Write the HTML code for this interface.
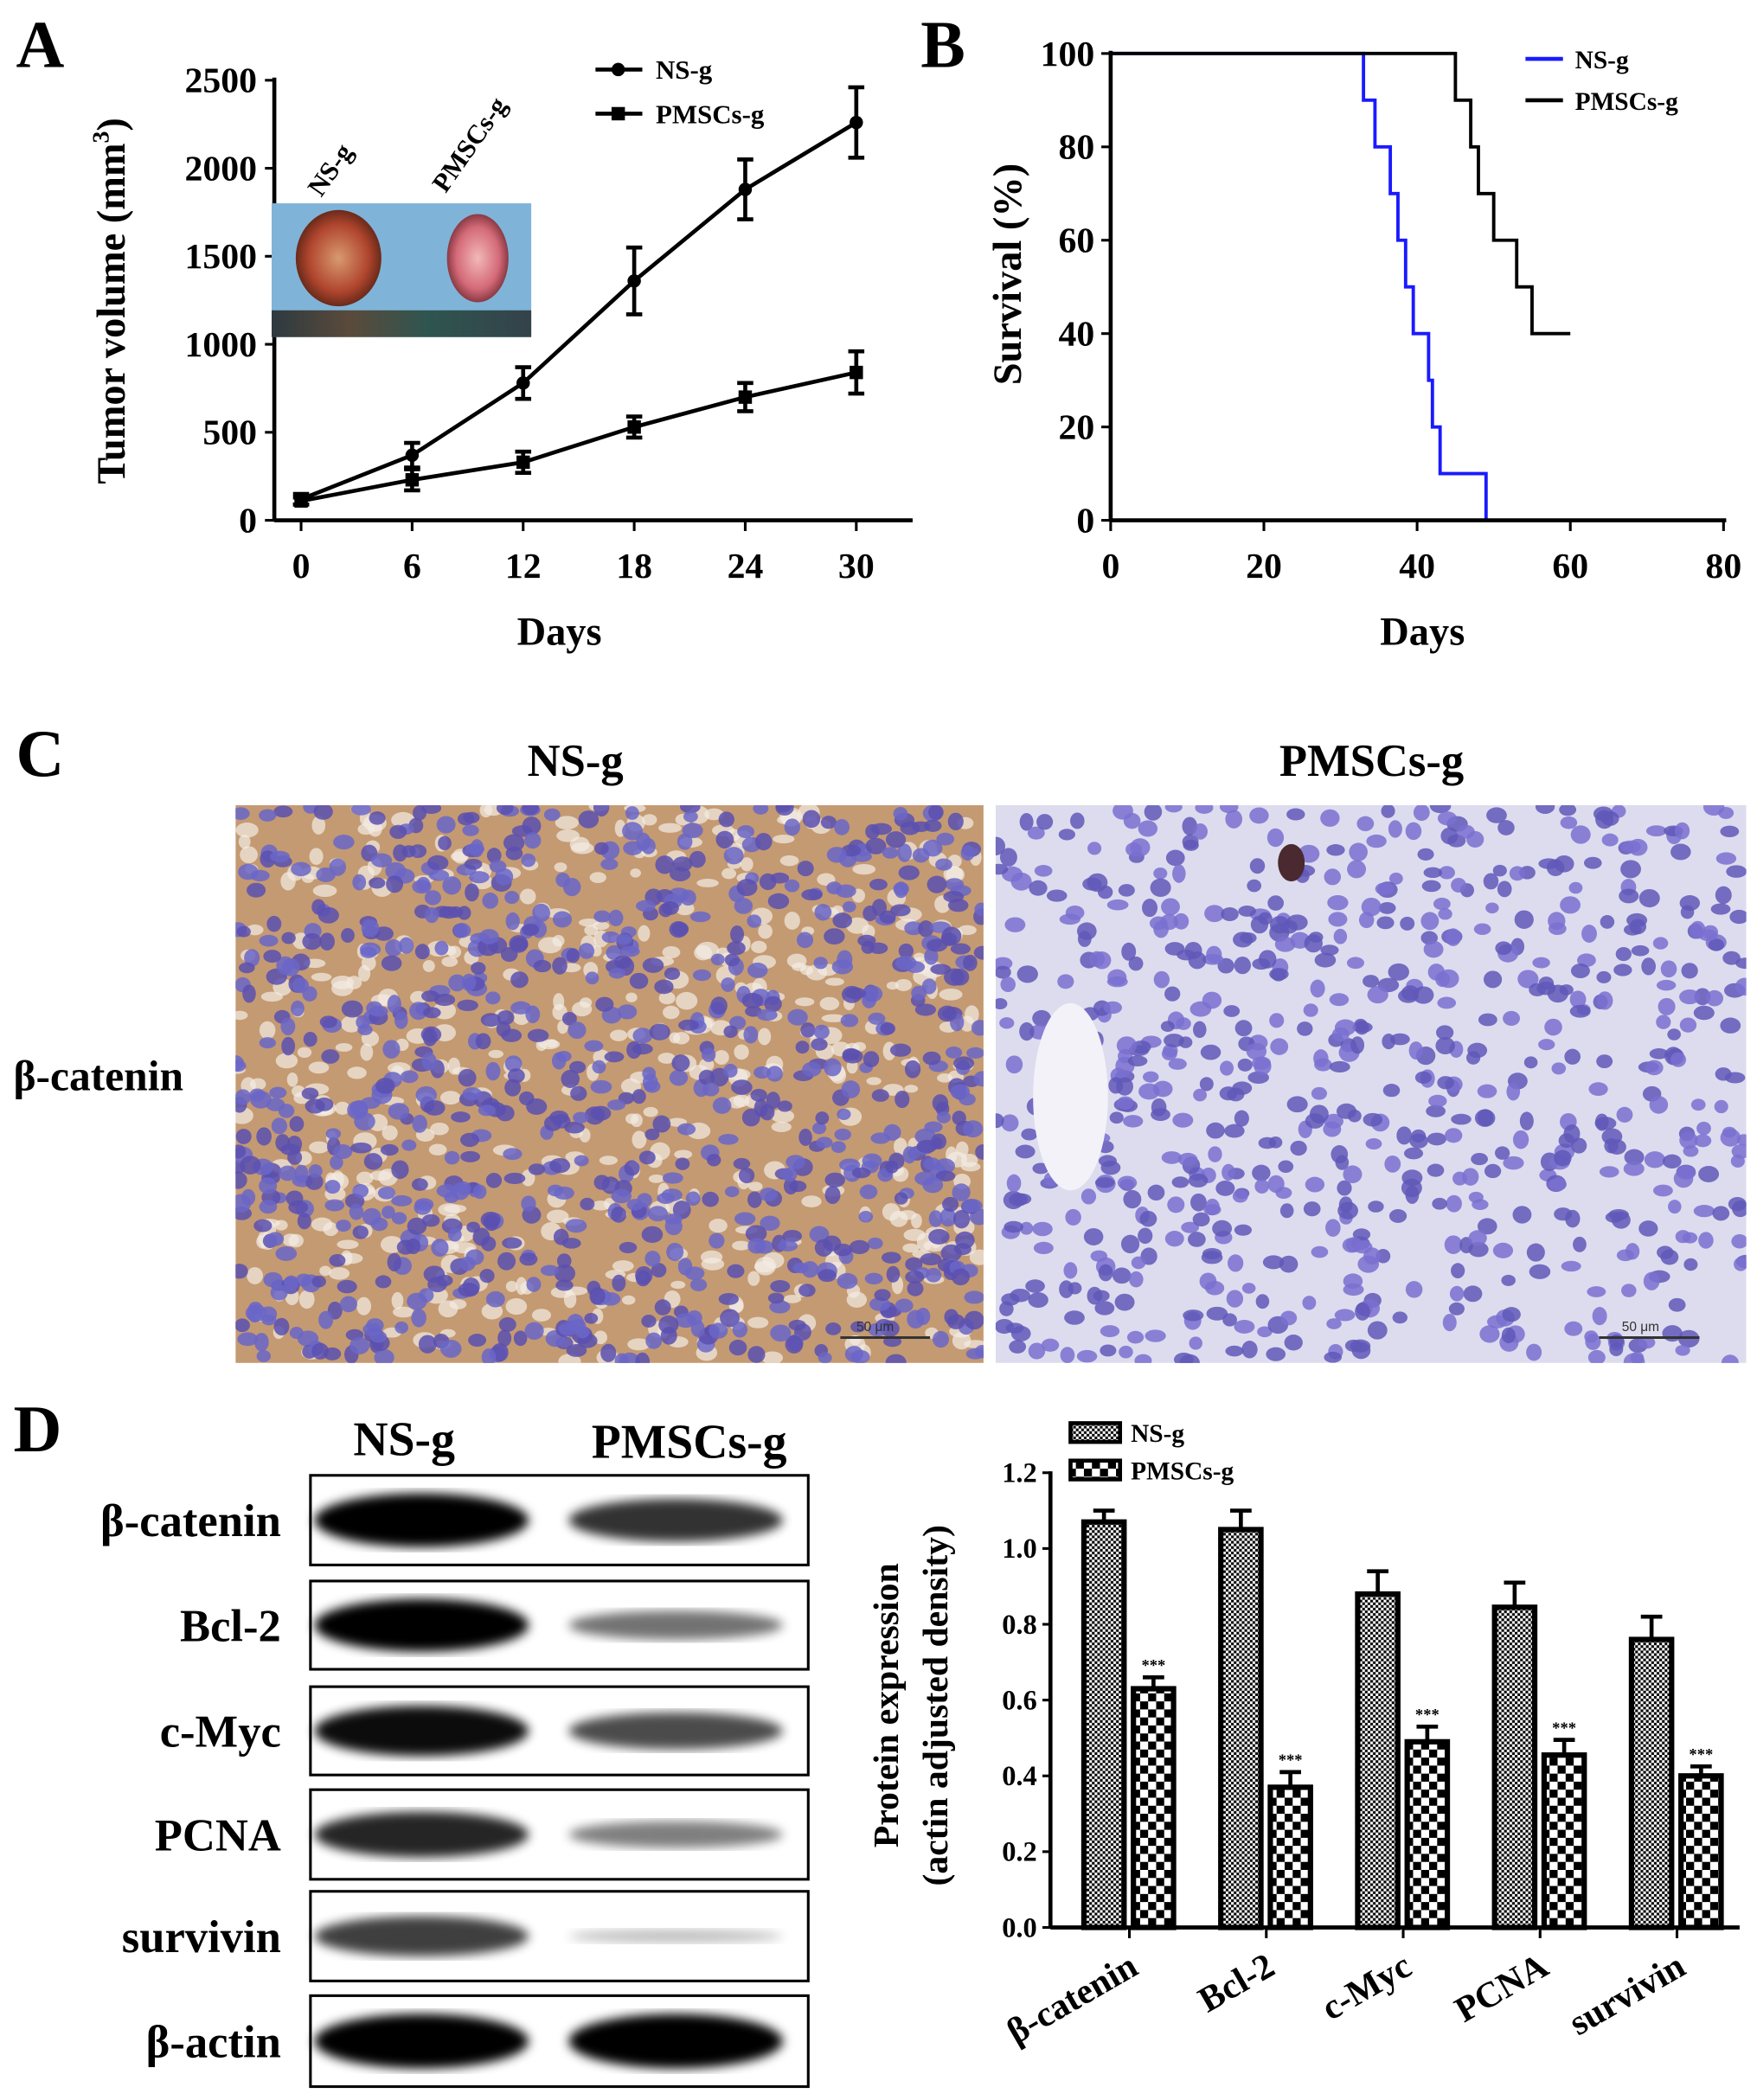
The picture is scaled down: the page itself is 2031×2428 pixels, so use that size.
<!DOCTYPE html>
<html><head><meta charset="utf-8"><style>
html,body{margin:0;padding:0;background:#fff;}
svg{display:block;font-family:"Liberation Serif",serif;font-weight:bold;}
</style></head><body>
<svg id="fig" width="2031" height="2428" viewBox="0 0 1313 1570" preserveAspectRatio="none" xmlns="http://www.w3.org/2000/svg">
<defs>
<pattern id="pFine" width="4" height="4" patternUnits="userSpaceOnUse"><rect width="4" height="4" fill="#fff"/><rect width="2" height="2" fill="#000"/><rect x="2" y="2" width="2" height="2" fill="#000"/></pattern>
<pattern id="pCoarse" width="12" height="12" patternUnits="userSpaceOnUse"><rect width="12" height="12" fill="#fff"/><rect width="6" height="6" fill="#000"/><rect x="6" y="6" width="6" height="6" fill="#000"/></pattern>
<filter id="blur3"><feGaussianBlur stdDeviation="4"/></filter>
<linearGradient id="ruler" x1="0" x2="1"><stop offset="0" stop-color="#2d3a40"/><stop offset="0.3" stop-color="#5a4a3a"/><stop offset="0.6" stop-color="#2f5550"/><stop offset="1" stop-color="#34424a"/></linearGradient>
<radialGradient id="tum1"><stop offset="0" stop-color="#d89a70"/><stop offset="0.7" stop-color="#b0452e"/><stop offset="1" stop-color="#6a2a1a"/></radialGradient>
<radialGradient id="tum2"><stop offset="0" stop-color="#f2b8b8"/><stop offset="0.7" stop-color="#d46a78"/><stop offset="1" stop-color="#8a3a44"/></radialGradient>
<clipPath id="clipL"><rect x="176" y="602" width="559" height="417"/></clipPath>
<clipPath id="clipR"><rect x="744" y="602" width="561" height="417"/></clipPath>
</defs>

<text x="12" y="50" font-size="50">A</text>
<text x="688" y="50" font-size="50">B</text>
<text x="12" y="580" font-size="50">C</text>
<text x="10" y="1085" font-size="50">D</text>

<g id="chartA"></g>
<g id="chartB"></g>

<text x="430" y="580" font-size="34" text-anchor="middle">NS-g</text>
<text x="1025" y="580" font-size="34" text-anchor="middle">PMSCs-g</text>
<text x="10" y="815" font-size="32">β-catenin</text>
<g clip-path="url(#clipL)"><rect x="176" y="602" width="559" height="417" fill="#c49a72"/><g id="cellsL"></g></g>
<g clip-path="url(#clipR)"><rect x="744" y="602" width="561" height="417" fill="#dcdcee"/><g id="cellsR"></g></g>
<line x1="628" y1="1000" x2="695" y2="1000" stroke="#333" stroke-width="2"/>
<text x="640" y="995" font-size="10" font-weight="normal" fill="#333" font-family="Liberation Sans,sans-serif">50 μm</text>
<line x1="1195" y1="1000" x2="1270" y2="1000" stroke="#333" stroke-width="2"/>
<text x="1212" y="995" font-size="10" font-weight="normal" fill="#333" font-family="Liberation Sans,sans-serif">50 μm</text>

<text x="302" y="1088" font-size="36" text-anchor="middle">NS-g</text>
<text x="515" y="1090" font-size="36" text-anchor="middle">PMSCs-g</text>
<g id="blots"></g>

<g id="chartD"></g>
</svg>

<script>
const NS='http://www.w3.org/2000/svg';
function mk(p,t,a,txt){const e=document.createElementNS(NS,t);for(const k in a)e.setAttribute(k,a[k]);if(txt!==undefined)e.textContent=txt;p.appendChild(e);return e;}

const daysA=[0,6,12,18,24,30];
const nsVol=[120,370,780,1360,1880,2260];
const nsErr=[30,70,90,190,170,200];
const pmVol=[110,230,330,530,700,840];
const pmErr=[20,60,60,60,80,120];
const yTicksA=[0,500,1000,1500,2000,2500];

const nsSurvT=[0,33,34.5,36.5,37.5,38.5,39.5,41.5,42,43,49];
const nsSurvV=[100,90,80,70,60,50,40,30,20,10,0];
const pmSurvT=[0,45,47,48,50,53,55,60];
const pmSurvV=[100,90,80,70,60,50,40,40];
const xTicksB=[0,20,40,60,80];
const yTicksB=[0,20,40,60,80,100];

const proteins=['β-catenin','Bcl-2','c-Myc','PCNA','survivin'];
const nsExpr=[1.07,1.05,0.88,0.845,0.76];
const nsExprErr=[0.03,0.05,0.06,0.065,0.06];
const pmExpr=[0.63,0.37,0.49,0.455,0.40];
const pmExprErr=[0.03,0.04,0.04,0.04,0.025];
const yTicksD=['0.0','0.2','0.4','0.6','0.8','1.0','1.2'];
const blotLabels=['β-catenin','Bcl-2','c-Myc','PCNA','survivin','β-actin'];

(function(){
 const g=document.getElementById('chartA');
 const X=d=>225+d*13.83, Y=v=>389-v*0.1316;
 let e=mk(g,'line',{x1:205,y1:389,x2:682,y2:389,stroke:'#000','stroke-width':3});
 
 e=mk(g,'line',{x1:205,y1:58,x2:205,y2:390,stroke:'#000','stroke-width':3});
 
 yTicksA.forEach(v=>{mk(g,'line',{x1:198,y1:Y(v),x2:205,y2:Y(v),stroke:'#000','stroke-width':2});
  e=mk(g,'text',{x:192,y:Y(v)+9,'font-size':27,'text-anchor':'end'},v);
  });
 daysA.forEach(d=>{mk(g,'line',{x1:X(d),y1:389,x2:X(d),y2:397,stroke:'#000','stroke-width':2});
  e=mk(g,'text',{x:X(d),y:432,'font-size':27,'text-anchor':'middle'},d);
  });
 e=mk(g,'text',{x:418,y:482,'font-size':30,'text-anchor':'middle'},'Days');
 
 e=mk(g,'text',{x:0,y:0,'font-size':30,'text-anchor':'middle',transform:'translate(93,225) rotate(-90)'});
 
 e.appendChild(document.createTextNode('Tumor volume (mm'));
 mk(e,'tspan',{dy:-12,'font-size':18},'3');
 mk(e,'tspan',{dy:12},')');
 const ph=mk(g,'g',{});
 mk(ph,'rect',{x:203,y:152,width:194,height:100,fill:'#7fb4d8'});
 mk(ph,'rect',{x:203,y:232,width:194,height:20,fill:'url(#ruler)'});
 mk(ph,'ellipse',{cx:253,cy:193,rx:32,ry:36,fill:'url(#tum1)'});
 mk(ph,'ellipse',{cx:357,cy:193,rx:23,ry:33,fill:'url(#tum2)'});
 e=mk(g,'text',{x:0,y:0,'font-size':20,transform:'translate(240,148) rotate(-55)'},'NS-g');
 
 e=mk(g,'text',{x:0,y:0,'font-size':20,transform:'translate(333,145) rotate(-55)'},'PMSCs-g');
 
 function series(vals,errs,name,square){
  const s=mk(g,'g',{});
  mk(s,'polyline',{points:daysA.map((d,i)=>X(d)+','+Y(vals[i])).join(' '),fill:'none',stroke:'#000','stroke-width':3});
  daysA.forEach((d,i)=>{const x=X(d);
   mk(s,'line',{x1:x,y1:Y(vals[i]-errs[i]),x2:x,y2:Y(vals[i]+errs[i]),stroke:'#000','stroke-width':3});
   mk(s,'line',{x1:x-6,y1:Y(vals[i]+errs[i]),x2:x+6,y2:Y(vals[i]+errs[i]),stroke:'#000','stroke-width':3});
   mk(s,'line',{x1:x-6,y1:Y(vals[i]-errs[i]),x2:x+6,y2:Y(vals[i]-errs[i]),stroke:'#000','stroke-width':3});
   const m=square?mk(s,'rect',{x:x-5,y:Y(vals[i])-5,width:10,height:10,fill:'#000'}):mk(s,'circle',{cx:x,cy:Y(vals[i]),r:5,fill:'#000'});
   });
 }
 series(nsVol,nsErr,'series-ns-g',false);
 series(pmVol,pmErr,'series-pmscs-g',true);
 const lg=mk(g,'g',{});
 mk(lg,'line',{x1:445,y1:52,x2:480,y2:52,stroke:'#000','stroke-width':3});mk(lg,'circle',{cx:462,cy:52,r:5});
 mk(lg,'text',{x:490,y:59,'font-size':20},'NS-g');
 mk(lg,'line',{x1:445,y1:85,x2:480,y2:85,stroke:'#000','stroke-width':3});mk(lg,'rect',{x:457,y:80,width:10,height:10});
 mk(lg,'text',{x:490,y:92,'font-size':20},'PMSCs-g');
})();

(function(){
 const g=document.getElementById('chartB');
 const X=d=>830+d*5.725, Y=v=>389-v*3.49;
 let e;
 yTicksB.forEach(v=>{mk(g,'line',{x1:823,y1:Y(v),x2:830,y2:Y(v),stroke:'#000','stroke-width':2});
  e=mk(g,'text',{x:818,y:Y(v)+9,'font-size':27,'text-anchor':'end'},v);
  });
 xTicksB.forEach(d=>{mk(g,'line',{x1:X(d),y1:389,x2:X(d),y2:397,stroke:'#000','stroke-width':2});
  e=mk(g,'text',{x:X(d),y:432,'font-size':27,'text-anchor':'middle'},d);
  });
 e=mk(g,'text',{x:1063,y:482,'font-size':30,'text-anchor':'middle'},'Days');
 
 e=mk(g,'text',{x:0,y:0,'font-size':30,'text-anchor':'middle',transform:'translate(763,205) rotate(-90)'},'Survival (%)');
 
 function step(T,V,color,name){let d='M'+X(T[0])+','+Y(V[0]);
  for(let i=1;i<T.length;i++){d+=' H'+X(T[i])+' V'+Y(V[i]);}
  e=mk(g,'path',{d:d,fill:'none',stroke:color,'stroke-width':2.5});
  }
 step(nsSurvT,nsSurvV,'#1a1aff','survival-ns-g');
 step(pmSurvT,pmSurvV,'#000','survival-pmscs-g');
 e=mk(g,'line',{x1:830,y1:389,x2:1290,y2:389,stroke:'#000','stroke-width':3});
 
 e=mk(g,'line',{x1:830,y1:38,x2:830,y2:390,stroke:'#000','stroke-width':3});
 
 const lg=mk(g,'g',{});
 mk(lg,'line',{x1:1140,y1:44,x2:1168,y2:44,stroke:'#1a1aff','stroke-width':3});
 mk(lg,'text',{x:1177,y:51,'font-size':19},'NS-g');
 mk(lg,'line',{x1:1140,y1:75,x2:1168,y2:75,stroke:'#000','stroke-width':3});
 mk(lg,'text',{x:1177,y:82,'font-size':19},'PMSCs-g');
})();

(function(){
 let s=12345;const r=()=>{s=(s*1103515245+12345)%2147483648;return s/2147483648;};
 const L=document.getElementById('cellsL'),R=document.getElementById('cellsR');
 for(let i=0;i<500;i++){mk(L,'ellipse',{cx:176+r()*559,cy:602+r()*417,rx:4+r()*5,ry:3+r()*4,fill:'#f4ece4',opacity:0.7});}
 for(let i=0;i<900;i++){mk(L,'ellipse',{cx:176+r()*559,cy:602+r()*417,rx:5+r()*3,ry:4+r()*3,fill:r()>0.5?'#6a66c8':'#5a50b0',opacity:0.85});}
 for(let i=0;i<700;i++){mk(R,'ellipse',{cx:744+r()*561,cy:602+r()*417,rx:5+r()*3,ry:4+r()*3,fill:r()>0.5?'#7a70d0':'#6058b8',opacity:0.85});}
 mk(R,'ellipse',{cx:800,cy:820,rx:28,ry:70,fill:'#f2f2f8'});
 mk(R,'ellipse',{cx:965,cy:645,rx:10,ry:14,fill:'#4a2a30'});
})();

(function(){
 const g=document.getElementById('blots');
 const rows=[[1103,1170],[1182,1248],[1261,1327],[1338,1405],[1414,1481],[1492,1560]];
 const strength=[[1,0.8],[1,0.55],[0.95,0.7],[0.85,0.5],[0.75,0.25],[1,1]];
 rows.forEach((rw,i)=>{const h=rw[1]-rw[0],cy=(rw[0]+rw[1])/2;
  const b=mk(g,'g',{});
  mk(b,'rect',{x:232,y:rw[0],width:372,height:h,fill:'#fff',stroke:'#000','stroke-width':2});
  mk(b,'ellipse',{cx:315,cy:cy,rx:80,ry:h*0.3*strength[i][0],fill:'#000',opacity:strength[i][0],filter:'url(#blur3)'});
  mk(b,'ellipse',{cx:505,cy:cy,rx:80,ry:h*0.3*strength[i][1],fill:'#000',opacity:strength[i][1],filter:'url(#blur3)'});
  const t=mk(g,'text',{x:210,y:cy+12,'font-size':34,'text-anchor':'end'},blotLabels[i]);
  });
})();

(function(){
 const g=document.getElementById('chartD');
 const Y=v=>1441-v*283.3, C=i=>844+i*102.3, bw=30;
 let e=mk(g,'line',{x1:785,y1:1441,x2:1300,y2:1441,stroke:'#000','stroke-width':3});
 
 e=mk(g,'line',{x1:785,y1:1100,x2:785,y2:1442,stroke:'#000','stroke-width':3});
 
 yTicksD.forEach(t=>{const v=parseFloat(t);mk(g,'line',{x1:779,y1:Y(v),x2:785,y2:Y(v),stroke:'#000','stroke-width':2});
  e=mk(g,'text',{x:775,y:Y(v)+7,'font-size':21,'text-anchor':'end'},t);
  });
 e=mk(g,'text',{x:0,y:0,'font-size':27,'text-anchor':'middle',transform:'translate(671,1275) rotate(-90)'},'Protein expression');
 
 e=mk(g,'text',{x:0,y:0,'font-size':27,'text-anchor':'middle',transform:'translate(708,1275) rotate(-90)'},'(actin adjusted density)');
 
 proteins.forEach((p,i)=>{const c=C(i);
  mk(g,'line',{x1:c,y1:1441,x2:c,y2:1449,stroke:'#000','stroke-width':2});
  function bar(x,v,err,fill,name,star){
   mk(g,'line',{x1:x+bw/2,y1:Y(v),x2:x+bw/2,y2:Y(v+err),stroke:'#000','stroke-width':3});
   mk(g,'line',{x1:x+bw/2-8,y1:Y(v+err),x2:x+bw/2+8,y2:Y(v+err),stroke:'#000','stroke-width':3});
   const r=mk(g,'rect',{x:x,y:Y(v),width:bw,height:Y(0)-Y(v),fill:fill,stroke:'#000','stroke-width':4});
   
   if(star){const s=mk(g,'text',{x:x+bw/2,y:Y(v+err)-5,'font-size':12,'text-anchor':'middle'},'***');
    }
  }
  bar(c-34,nsExpr[i],nsExprErr[i],'url(#pFine)','bar-ns-g',false);
  bar(c+3,pmExpr[i],pmExprErr[i],'url(#pCoarse)','bar-pmscs-g',true);
  e=mk(g,'text',{x:0,y:0,'font-size':27,'text-anchor':'end',transform:'translate('+(c+8)+',1475) rotate(-30)'},p);
  
 });
 const lg=mk(g,'g',{});
 mk(lg,'rect',{x:800,y:1064,width:37,height:14,fill:'url(#pFine)',stroke:'#000','stroke-width':3});
 mk(lg,'text',{x:845,y:1078,'font-size':19},'NS-g');
 mk(lg,'rect',{x:800,y:1092,width:37,height:14,fill:'url(#pCoarse)',stroke:'#000','stroke-width':3});
 mk(lg,'text',{x:845,y:1106,'font-size':19},'PMSCs-g');
})();
</script>
</body></html>
